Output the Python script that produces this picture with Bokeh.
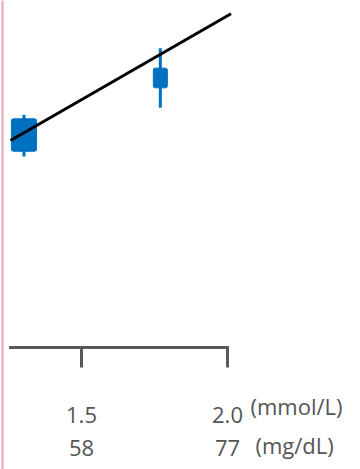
from bokeh.plotting import figure
from bokeh.models import Range1d, ColumnDataSource
from bokeh.core.properties import value
from bokeh.embed import file_html
from bokeh.resources import INLINE

# ---- data ----
tick_values = [1.5, 2.0]
tick_mmol = ["1.5", "2.0"]
tick_mgdl = ["58", "77"]
unit_labels = ["(mmol/L)", "(mg/dL)"]

x_center = [1.303, 1.770]
x_lo = [1.260, 1.746]
x_hi = [1.346, 1.794]
box_lo = [1.185, 1.568]
box_hi = [1.381, 1.687]
whisk_lo = [1.153, 1.448]
whisk_hi = [1.405, 1.807]

line_x = [1.257, 2.012]
line_y = [1.250, 2.015]

axis_start = 1.257
axis_y = 0.0

BLUE = "#0070C0"
GRAY = "#595959"
FONT = value("Open Sans")

p = figure(width=360, height=469, output_backend="svg", toolbar_location=None,
           x_range=Range1d(1.2226, 2.4555), y_range=Range1d(-0.7367, 2.0954),
           min_border=0, outline_line_color=None)
p.axis.visible = False
p.grid.visible = False
p.background_fill_color = "white"

# left pink border line
p.line(x=[1.2226 + 2.0 / 292] * 2, y=[-0.7367, 2.0954], line_color="#E3A2B8", line_width=2)

# axis line and ticks
p.segment(x0=[axis_start], y0=[axis_y], x1=[tick_values[-1]], y1=[axis_y],
          line_color=GRAY, line_width=3, line_cap="square")
p.segment(x0=tick_values, y0=[axis_y] * len(tick_values), x1=tick_values,
          y1=[axis_y - 20 / 165.6] * len(tick_values),
          line_color=GRAY, line_width=3, line_cap="butt")

# tick labels
common = dict(text_font=FONT, text_font_size="22px", text_color="#555555",
              text_baseline="alphabetic")
p.text(x=tick_values, y=[axis_y] * 2, text=tick_mmol, text_align="center",
       y_offset=67, **common)
p.text(x=tick_values, y=[axis_y] * 2, text=tick_mgdl, text_align="center",
       y_offset=100, **common)
p.text(x=[tick_values[-1]], y=[axis_y], text=[unit_labels[0]], text_align="left",
       x_offset=23, y_offset=58, **common)
p.text(x=[tick_values[-1]], y=[axis_y], text=[unit_labels[1]], text_align="left",
       x_offset=28, y_offset=97, **common)

# whiskers and boxes
src = ColumnDataSource(dict(xc=x_center, xl=x_lo, xh=x_hi, bl=box_lo, bh=box_hi,
                            wl=whisk_lo, wh=whisk_hi))
p.segment(x0="xc", y0="wl", x1="xc", y1="wh", source=src, line_color=BLUE, line_width=3)
p.quad(left="xl", right="xh", bottom="bl", top="bh", source=src,
       fill_color=BLUE, line_color=BLUE, line_width=1, border_radius=2)

# fitted line drawn above the boxes
p.line(x=line_x, y=line_y, line_color="black", line_width=3)

open("out.html", "w").write(file_html(p, INLINE))
